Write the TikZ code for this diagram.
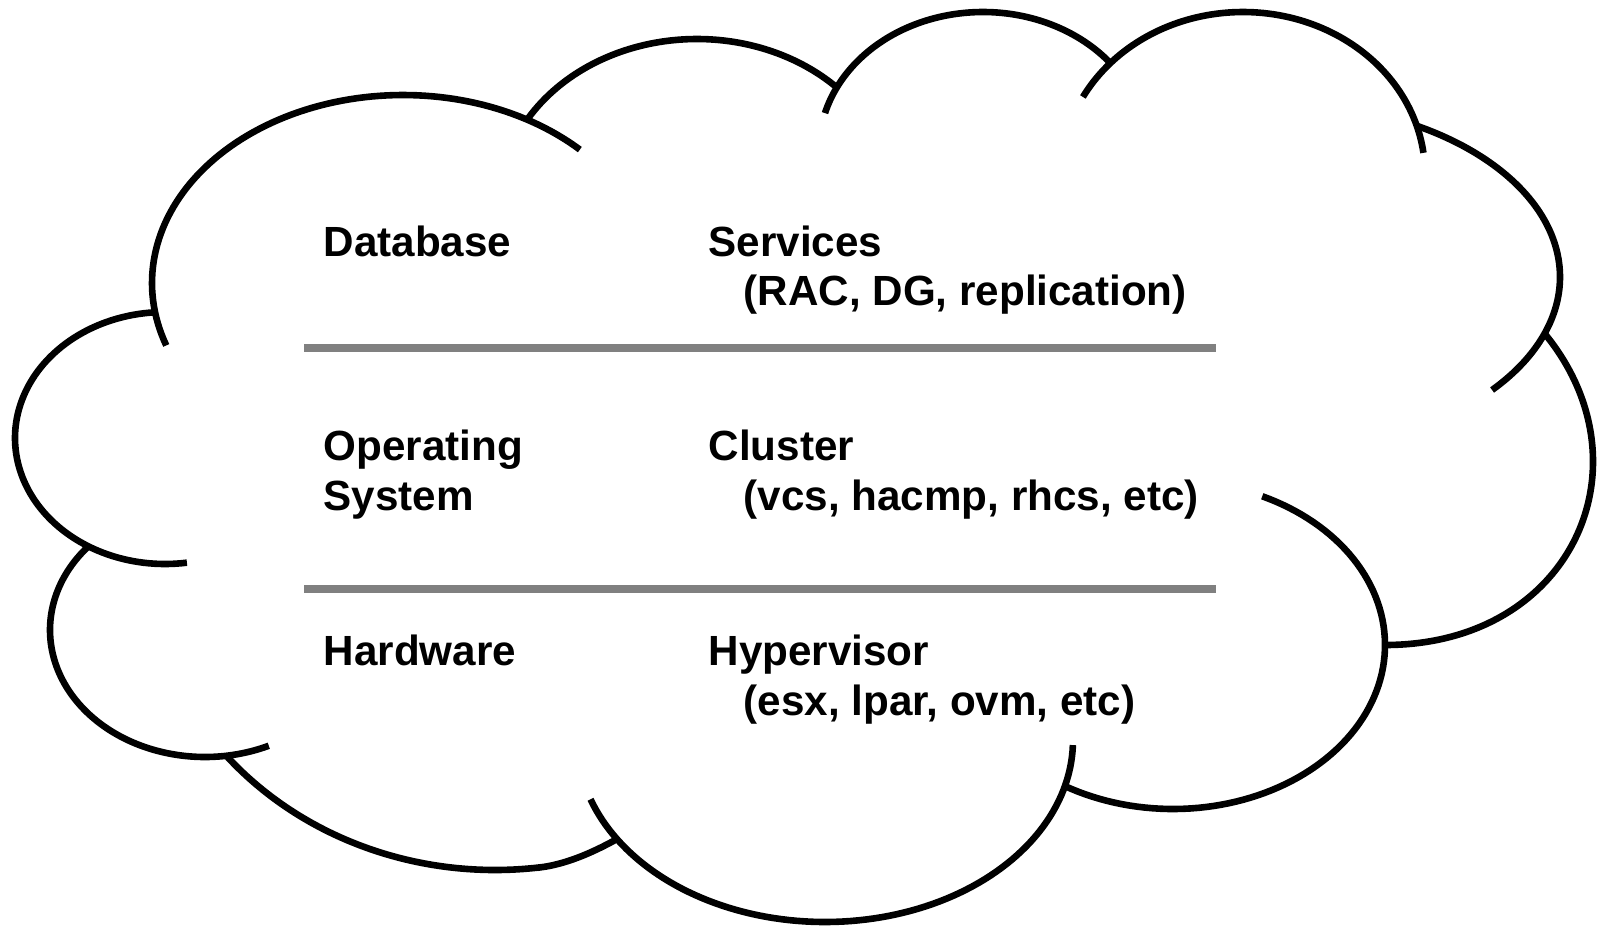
\documentclass[tikz,border=0pt]{standalone}
\usepackage{fontspec}
\setmainfont{Liberation Sans}
\newcommand{\cloudlobe}[6]{%
  \draw[cloudline] plot[domain=#5:#6, samples=90, variable=\t] ({#1+#3*cos(\t)},{#2+#4*sin(\t)});}
\begin{document}
\begin{tikzpicture}[x=0.01cm,y=-0.01cm,
  cloudline/.style={line width=0.066cm, black},
  sepline/.style={line width=0.08cm, color=black!50},
  lbl/.style={anchor=base west, inner sep=0pt, font=\fontsize{12}{14.2}\selectfont\bfseries}]
\useasboundingbox (0,0) rectangle (1600,927);
% cloud lobes: centre x, centre y, x radius, y radius, start, end (degrees, y downwards)
\cloudlobe{403}{283}{251}{188}{160.6}{314.8}   % A top-left
\cloudlobe{697}{205}{198}{166}{210.8}{315}     % B
\cloudlobe{983}{150}{164}{138}{195.5}{321}     % C
\cloudlobe{1243}{174}{182}{162}{208.4}{352.5}  % D
\cloudlobe{1276.5}{277}{283.5}{174}{-60.4}{40.5} % E
% F
\coordinate (f0) at (1545,334);
\coordinate (f1) at (1385,645);
\draw[cloudline] (f0) .. controls (1652,465) and (1572,645) .. (f1);
\cloudlobe{1173}{645}{212}{164}{-65.1}{120.7}  % G
\cloudlobe{825}{740}{248}{182}{1.6}{161}       % H
% I
\coordinate (i0) at (617,839);
\draw[cloudline] (i0) .. controls (592,853) and (565,864.4) .. (540.1,867.4)
  -- plot[domain=82.6:140.1, samples=90, variable=\t] ({495+350*cos(\t)},{552+318*sin(\t)});
\cloudlobe{205}{630}{155}{127}{65.7}{221.4}    % J
\cloudlobe{165}{438}{150}{126}{81.6}{265.8}    % L
% separators
\coordinate (s1a) at (304,347.5);
\coordinate (s1b) at (1216,347.5);
\coordinate (s2a) at (304,588.5);
\coordinate (s2b) at (1216,588.5);
\draw[sepline] (s1a) -- (s1b);
\draw[sepline] (s2a) -- (s2b);
% labels
\node[lbl] (db) at (323,256) {Database};
\node[lbl] (svc) at (708,256) {Services};
\node[lbl] (svcd) at (743,305) {(RAC, DG, replication)};
\node[lbl] (os1) at (323,460) {Operating};
\node[lbl] (os2) at (323,510) {System};
\node[lbl] (cl) at (708,460) {Cluster};
\node[lbl] (cld) at (743,510) {(vcs, hacmp, rhcs, etc)};
\node[lbl] (hw) at (323,665) {Hardware};
\node[lbl] (hv) at (708,665) {Hypervisor};
\node[lbl] (hvd) at (743,715) {(esx, lpar, ovm, etc)};
\end{tikzpicture}
\end{document}
